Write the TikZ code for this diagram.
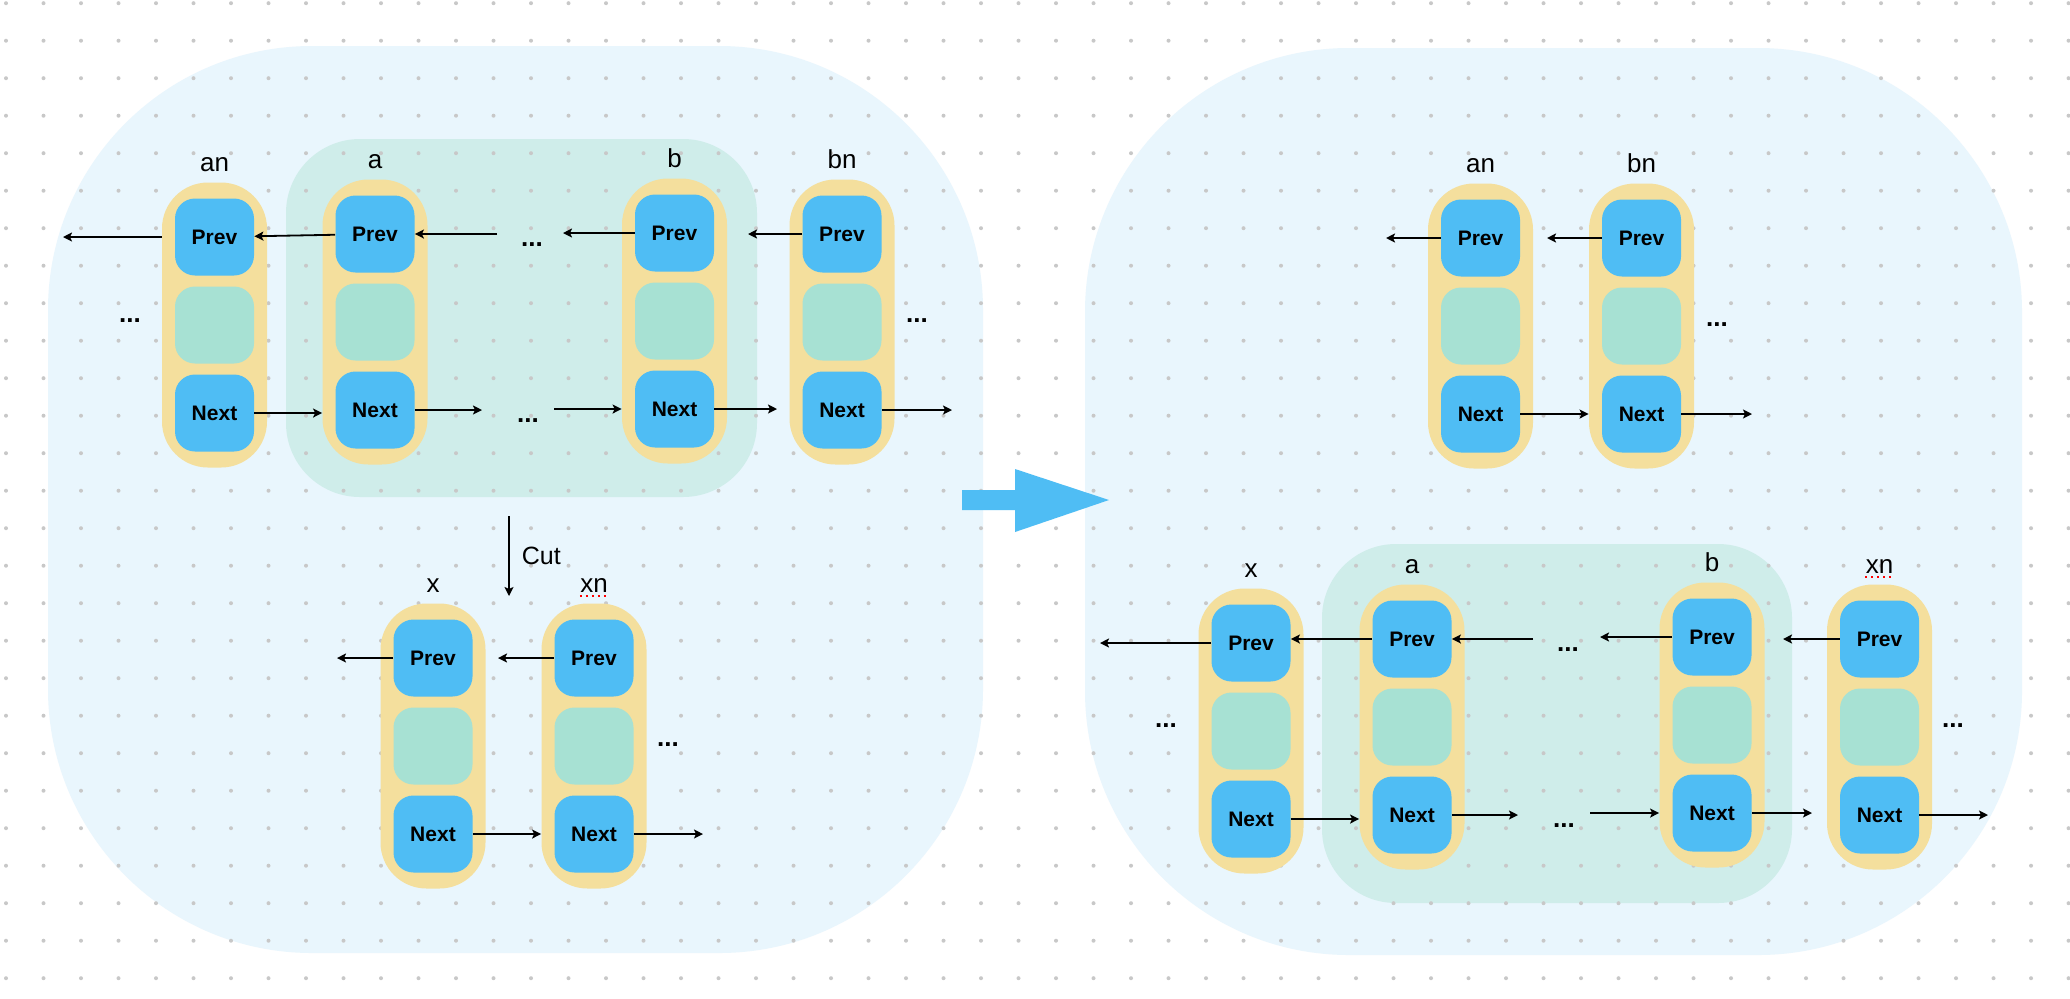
\documentclass[tikz,border=0pt]{standalone}
\usepackage{fontspec}
\setmainfont{Liberation Sans}
\usepackage{tikz}
\usepackage{xcolor}
\usetikzlibrary{arrows.meta}
\definecolor{panel-blue}{HTML}{E9F6FD}
\definecolor{group-green}{HTML}{CFEDEA}
\definecolor{cell-yellow}{HTML}{F4DF9D}
\definecolor{field-blue}{HTML}{4FBDF4}
\definecolor{data-green}{HTML}{A7E1D3}
\definecolor{grid-gray}{HTML}{C8C8C8}
\tikzset{
    panel/.style = {fill=panel-blue, rounded corners=132pt},
    group-box/.style = {fill=group-green, rounded corners=37pt},
    list-cell/.style = {fill=cell-yellow, rounded corners=23pt, inner sep=0pt, minimum width=52.5pt, minimum height=142.5pt},
    field/.style = {fill=field-blue, rounded corners=10pt, inner sep=0pt, minimum width=39.5pt, minimum height=38.5pt, font=\bfseries\fontsize{10.5}{12}\selectfont},
    data-field/.style = {field, fill=data-green},
    cell-label/.style = {anchor=base, inner sep=0pt, font=\fontsize{13}{15}\selectfont},
    more/.style = {anchor=base, inner sep=0pt, font=\bfseries\fontsize{13}{15}\selectfont},
    link/.style = {-{Stealth[length=4.5pt,width=4.5pt,inset=1pt]}, line width=0.9pt},
    spell-mark/.style = {draw=red, dotted, line width=1pt},
}
\newcommand{\listnode}[4]{%
    \node[list-cell] (#1) at (#2,#3) {};
    \node[field] (#1-prev) at (#2,#3-88) {Prev};
    \node[data-field] (#1-data) at (#2,#3) {};
    \node[field] (#1-next) at (#2,#3+88) {Next};
    \node[cell-label] (#1-label) at ([yshift=5.5pt]#1.north) {#4};
}

\begin{document}
\begin{tikzpicture}[x=0.5pt,y=-0.5pt]
\useasboundingbox (0,0) rectangle (2070,998);
\fill[white] (0,0) rectangle (2070,998);

\fill[panel] (48,46) rectangle (983,953);
\fill[panel] (1085,48) rectangle (2022,955);
\fill[group-box] (286,139) rectangle (757,497);
\fill[group-box] (1322,544) rectangle (1792,903);
\foreach \i in {0,...,55}
    \foreach \j in {0,...,26}
        \fill[grid-gray] (6+37.5*\i,3.2+37.5*\j) circle (1pt);

\fill[field-blue] (962,490) -- (1015,490) -- (1015,469) -- (1109,500) -- (1015,532) -- (1015,510) -- (962,510) -- cycle;

\listnode{l-an}{214.5}{325}{an}
\listnode{l-a}{375}{322}{a}
\listnode{l-b}{674.5}{321}{b}
\listnode{l-bn}{842}{322}{bn}
\listnode{l-x}{433}{746}{x}
\listnode{l-xn}{594}{746}{xn}

\listnode{r-an}{1480.5}{326}{an}
\listnode{r-bn}{1641.5}{326}{bn}
\listnode{r-x}{1251}{731}{x}
\listnode{r-a}{1412}{727}{a}
\listnode{r-b}{1712}{725}{b}
\listnode{r-xn}{1879.5}{727}{xn}

\draw[spell-mark] ([yshift=-2pt]l-xn-label.base west) -- ([yshift=-2pt]l-xn-label.base east);
\draw[spell-mark] ([yshift=-2pt]r-xn-label.base west) -- ([yshift=-2pt]r-xn-label.base east);

\node[more] (l-more-left) at (130,322) {...};
\node[more] (l-more-prev) at (532,246) {...};
\node[more] (l-more-next) at (528,422) {...};
\node[more] (l-more-right) at (917,322) {...};
\node[more] (l-more-xn) at (668,746) {...};
\node[more] (r-more-bn) at (1717,326) {...};
\node[more] (r-more-left) at (1166,727) {...};
\node[more] (r-more-prev) at (1568,651) {...};
\node[more] (r-more-next) at (1564,827) {...};
\node[more] (r-more-right) at (1953,727) {...};

\coordinate (l-an-out) at (63,237);
\coordinate (l-gap-prev-in) at (497,234);
\coordinate (l-b-prev-out) at (563,233);
\coordinate (l-bn-prev-out) at (748,234);
\coordinate (l-a-next-out) at (482,410);
\coordinate (l-gap-next-in) at (554,409);
\coordinate (l-b-next-out) at (777,409);
\coordinate (l-bn-next-out) at (952,410);
\coordinate (l-x-prev-out) at (337,658);
\coordinate (l-xn-prev-out) at (498,658);
\coordinate (l-xn-next-out) at (703,834);
\coordinate (cut-start) at (509,516);
\coordinate (cut-end) at (509,596);

\draw[link] (l-an-prev.west -| l-an.west) -- (l-an-out);
\draw[link] (l-a-prev) -- (l-an-prev);
\draw[link] (l-gap-prev-in) -- (l-a-prev.east);
\draw[link] (l-b-prev) -- (l-b-prev-out);
\draw[link] (l-bn-prev) -- (l-bn-prev-out);
\draw[link] (l-an-next) -- (l-an-next.east -| l-a.west);
\draw[link] (l-a-next) -- (l-a-next-out);
\draw[link] (l-gap-next-in) -- (l-gap-next-in -| l-b.west);
\draw[link] (l-b-next) -- (l-b-next-out);
\draw[link] (l-bn-next) -- (l-bn-next-out);
\draw[link] (l-x-prev) -- (l-x-prev-out);
\draw[link] (l-xn-prev) -- (l-xn-prev-out);
\draw[link] (l-x-next) -- (l-x-next.east -| l-xn.west);
\draw[link] (l-xn-next) -- (l-xn-next-out);
\draw[link] (cut-start) -- node[right=6pt, inner sep=0pt, font=\fontsize{12.5}{15}\selectfont] (cut-label) {Cut} (cut-end);

\coordinate (r-an-out) at (1386,238);
\coordinate (r-bn-prev-out) at (1547,238);
\coordinate (r-bn-next-out) at (1752,414);
\coordinate (r-x-out) at (1100,643);
\coordinate (r-gap-prev-in) at (1533,639);
\coordinate (r-b-prev-out) at (1600,637);
\coordinate (r-xn-prev-out) at (1783,639);
\coordinate (r-a-next-out) at (1518,815);
\coordinate (r-gap-next-in) at (1590,813);
\coordinate (r-b-next-out) at (1812,813);
\coordinate (r-xn-next-out) at (1988,815);

\draw[link] (r-an-prev) -- (r-an-out);
\draw[link] (r-bn-prev) -- (r-bn-prev-out);
\draw[link] (r-an-next) -- (r-an-next.east -| r-bn.west);
\draw[link] (r-bn-next) -- (r-bn-next-out);
\draw[link] (r-x-prev) -- (r-x-out);
\draw[link] (r-a-prev.west) -- (r-a-prev.west -| r-x-prev.east);
\draw[link] (r-gap-prev-in) -- (r-gap-prev-in -| r-a-prev.east);
\draw[link] (r-b-prev) -- (r-b-prev-out);
\draw[link] (r-xn-prev) -- (r-xn-prev-out);
\draw[link] (r-x-next) -- (r-x-next.east -| r-a.west);
\draw[link] (r-a-next) -- (r-a-next-out);
\draw[link] (r-gap-next-in) -- (r-gap-next-in -| r-b.west);
\draw[link] (r-b-next) -- (r-b-next-out);
\draw[link] (r-xn-next) -- (r-xn-next-out);
\end{tikzpicture}
\end{document}
